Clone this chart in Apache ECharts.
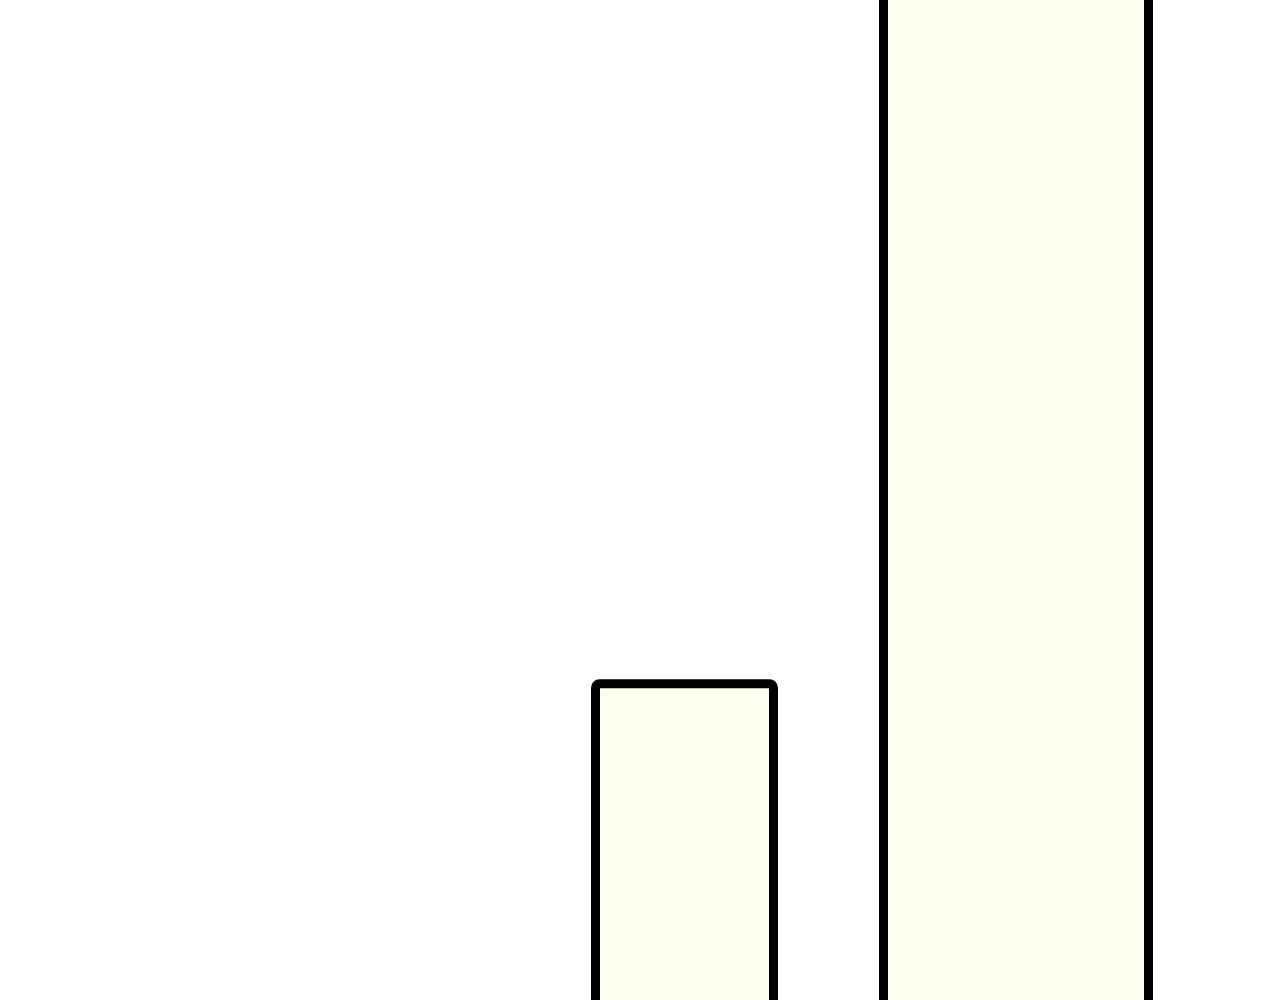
<!DOCTYPE html>
<html>
<head>
<meta charset="utf-8">
<script src="https://cdn.jsdelivr.net/npm/echarts@6/dist/echarts.min.js"></script>
<style>
html,body{margin:0;padding:0;background:#fff;overflow:hidden;width:1280px;height:1000px;position:relative;}
#chart{position:absolute;left:0;top:-200px;width:1280px;height:1400px;}
</style>
</head>
<body>
<div id="chart"></div>
<script>
const categories = ['A', 'B'];
const seriesSmall = [37.2, '-'];
const seriesLarge = ['-', 95];

const chart = echarts.init(document.getElementById('chart'), null, {renderer: 'canvas'});
const barStyle = {
  color: '#fefff0',
  borderColor: '#000',
  borderWidth: 9,
  borderRadius: [4, 4, 0, 0]
};
chart.setOption({
  animation: false,
  backgroundColor: '#ffffff',
  grid: {left: 518.75, right: 98.25, top: 0, bottom: 0, containLabel: false},
  xAxis: [
    {type: 'category', data: categories, show: false},
    {type: 'category', data: categories, show: false}
  ],
  yAxis: {type: 'value', min: 0, max: 100, show: false},
  series: [
    {type: 'bar', xAxisIndex: 0, data: seriesSmall, barWidth: 187, itemStyle: barStyle},
    {type: 'bar', xAxisIndex: 1, data: seriesLarge, barWidth: 274, itemStyle: barStyle}
  ]
});
</script>
</body>
</html>
